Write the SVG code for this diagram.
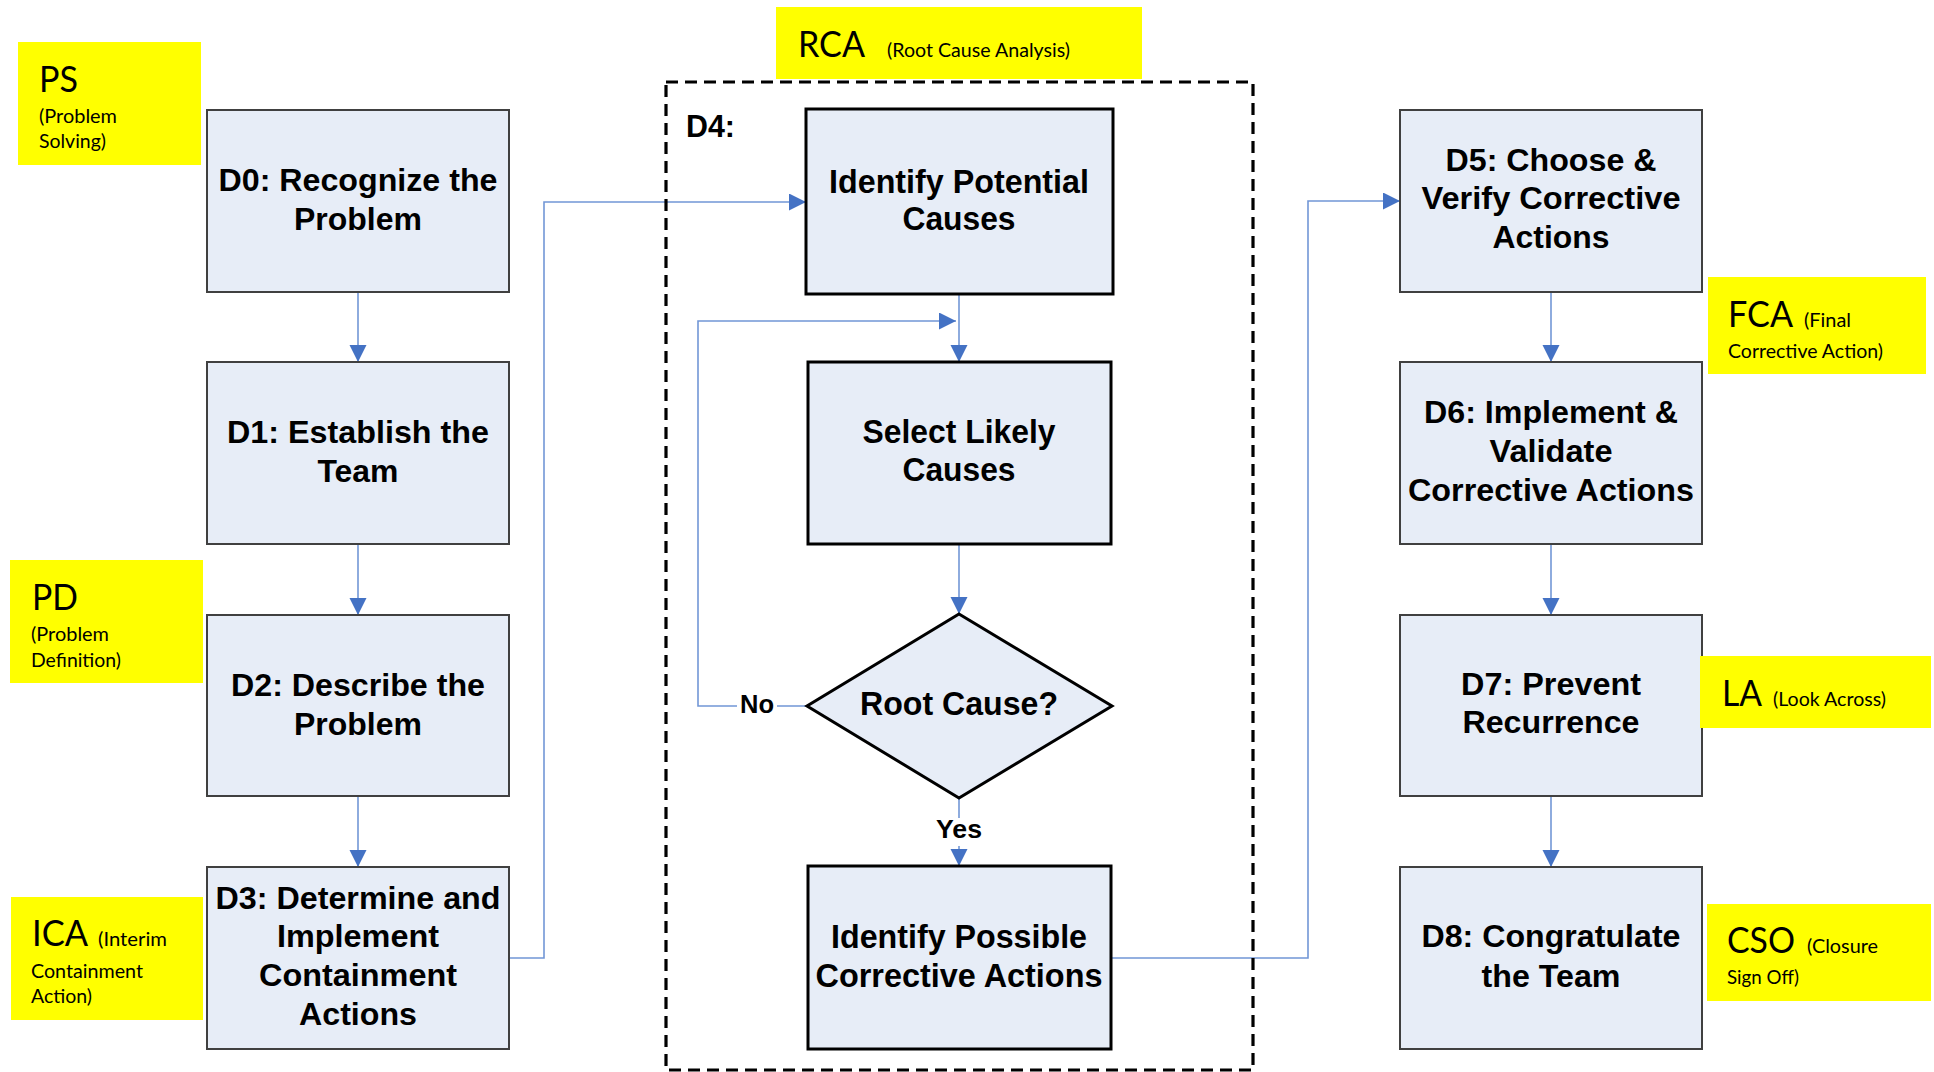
<svg xmlns="http://www.w3.org/2000/svg" width="1934" height="1072" viewBox="0 0 1934 1072">
<defs>
<style>
.box{fill:#E7EDF7;stroke:#404040;stroke-width:2}
.rbox{fill:#E7EDF7;stroke:#000;stroke-width:3}
.t{font-family:"Liberation Sans",Arial,sans-serif;font-weight:bold;font-size:30.5px;fill:#000;text-anchor:middle}
.tn{font-family:"Liberation Sans",Arial,sans-serif;font-weight:bold;font-size:33px;fill:#000;text-anchor:middle}
.lbl{font-family:"Liberation Sans",Arial,sans-serif;font-weight:bold;font-size:25px;fill:#000}
.yel{fill:#FFFF00}
.big{font-family:Lato,"Open Sans",sans-serif;font-size:36px;fill:#000}
.small{font-family:Lato,"Open Sans",sans-serif;font-size:19.5px;fill:#000}
.conn{fill:none;stroke:#7297D6;stroke-width:1.6}
.dash{fill:none;stroke:#000;stroke-width:3.2;stroke-dasharray:12 7}
</style>
<marker id="arr" markerUnits="userSpaceOnUse" markerWidth="18" markerHeight="18" refX="17" refY="8.5" orient="auto">
<path d="M0,0 L17,8.5 L0,17 z" fill="#4472C4"/>
</marker>
</defs>
<rect width="1934" height="1072" fill="#fff"/>

<g id="connectors">
<path class="conn" d="M358,292 V362" marker-end="url(#arr)"/>
<path class="conn" d="M358,544 V615" marker-end="url(#arr)"/>
<path class="conn" d="M358,796 V867" marker-end="url(#arr)"/>
<path class="conn" d="M509,958 H544 V202 H806" marker-end="url(#arr)"/>
<path class="conn" d="M959,294 V362" marker-end="url(#arr)"/>
<path class="conn" d="M959,544 V614" marker-end="url(#arr)"/>
<path class="conn" d="M807,706 H698 V321 H956" marker-end="url(#arr)"/>
<path class="conn" d="M959,798 V866" marker-end="url(#arr)"/>
<path class="conn" d="M1110,958 H1308 V201 H1400" marker-end="url(#arr)"/>
<path class="conn" d="M1551,292 V362" marker-end="url(#arr)"/>
<path class="conn" d="M1551,544 V615" marker-end="url(#arr)"/>
<path class="conn" d="M1551,796 V867" marker-end="url(#arr)"/>
<rect x="737" y="692" width="40" height="28" fill="#fff"/>
<text class="lbl" x="740" y="713" textLength="34" lengthAdjust="spacingAndGlyphs">No</text>
<rect x="933" y="818" width="52" height="28" fill="#fff"/>
<text class="lbl" x="959" y="838" text-anchor="middle" textLength="46" lengthAdjust="spacingAndGlyphs">Yes</text>
</g>

<g id="rca-group">
<rect class="dash" x="666" y="82" width="587" height="988"/>
<text class="t" x="686" y="137" text-anchor="start" style="text-anchor:start" textLength="49" lengthAdjust="spacingAndGlyphs">D4:</text>
</g>

<g id="D0">
<rect class="box" x="207" y="110" width="302" height="182"/>
<text class="t" x="358" y="191" textLength="279" lengthAdjust="spacingAndGlyphs">D0: Recognize the</text>
<text class="t" x="358" y="230" textLength="128" lengthAdjust="spacingAndGlyphs">Problem</text>
</g>
<g id="D1">
<rect class="box" x="207" y="362" width="302" height="182"/>
<text class="t" x="358" y="443" textLength="262" lengthAdjust="spacingAndGlyphs">D1: Establish the</text>
<text class="t" x="358" y="482" textLength="81" lengthAdjust="spacingAndGlyphs">Team</text>
</g>
<g id="D2">
<rect class="box" x="207" y="615" width="302" height="181"/>
<text class="t" x="358" y="696" textLength="254" lengthAdjust="spacingAndGlyphs">D2: Describe the</text>
<text class="t" x="358" y="735" textLength="128" lengthAdjust="spacingAndGlyphs">Problem</text>
</g>
<g id="D3">
<rect class="box" x="207" y="867" width="302" height="182"/>
<text class="t" x="358" y="909" textLength="285" lengthAdjust="spacingAndGlyphs">D3: Determine and</text>
<text class="t" x="358" y="947" textLength="162" lengthAdjust="spacingAndGlyphs">Implement</text>
<text class="t" x="358" y="986" textLength="198" lengthAdjust="spacingAndGlyphs">Containment</text>
<text class="t" x="358" y="1025" textLength="118" lengthAdjust="spacingAndGlyphs">Actions</text>
</g>

<g id="identify-potential-causes">
<rect class="rbox" x="806" y="109" width="307" height="185"/>
<text class="tn" x="959" y="193" textLength="260" lengthAdjust="spacingAndGlyphs">Identify Potential</text>
<text class="tn" x="959" y="230" textLength="113" lengthAdjust="spacingAndGlyphs">Causes</text>
</g>
<g id="select-likely-causes">
<rect class="rbox" x="808" y="362" width="303" height="182"/>
<text class="tn" x="959" y="443" textLength="193" lengthAdjust="spacingAndGlyphs">Select Likely</text>
<text class="tn" x="959" y="481" textLength="113" lengthAdjust="spacingAndGlyphs">Causes</text>
</g>
<g id="root-cause">
<polygon class="rbox" points="959,614 1112,706 959,798 807,706"/>
<text class="tn" x="959" y="715" textLength="198" lengthAdjust="spacingAndGlyphs">Root Cause?</text>
</g>
<g id="identify-possible-corrective-actions">
<rect class="rbox" x="808" y="866" width="303" height="183"/>
<text class="tn" x="959" y="948" textLength="256" lengthAdjust="spacingAndGlyphs">Identify Possible</text>
<text class="tn" x="959" y="987" textLength="287" lengthAdjust="spacingAndGlyphs">Corrective Actions</text>
</g>

<g id="D5">
<rect class="box" x="1400" y="110" width="302" height="182"/>
<text class="t" x="1551" y="171" textLength="211" lengthAdjust="spacingAndGlyphs">D5: Choose &amp;</text>
<text class="t" x="1551" y="209" textLength="259" lengthAdjust="spacingAndGlyphs">Verify Corrective</text>
<text class="t" x="1551" y="248" textLength="117" lengthAdjust="spacingAndGlyphs">Actions</text>
</g>
<g id="D6">
<rect class="box" x="1400" y="362" width="302" height="182"/>
<text class="t" x="1551" y="423" textLength="254" lengthAdjust="spacingAndGlyphs">D6: Implement &amp;</text>
<text class="t" x="1551" y="462" textLength="123" lengthAdjust="spacingAndGlyphs">Validate</text>
<text class="t" x="1551" y="501" textLength="286" lengthAdjust="spacingAndGlyphs">Corrective Actions</text>
</g>
<g id="D7">
<rect class="box" x="1400" y="615" width="302" height="181"/>
<text class="t" x="1551" y="695" textLength="180" lengthAdjust="spacingAndGlyphs">D7: Prevent</text>
<text class="t" x="1551" y="733" textLength="177" lengthAdjust="spacingAndGlyphs">Recurrence</text>
</g>
<g id="D8">
<rect class="box" x="1400" y="867" width="302" height="182"/>
<text class="t" x="1551" y="947" textLength="259" lengthAdjust="spacingAndGlyphs">D8: Congratulate</text>
<text class="t" x="1551" y="987" textLength="139" lengthAdjust="spacingAndGlyphs">the Team</text>
</g>

<g id="label-PS">
<rect class="yel" x="18" y="42" width="183" height="123"/>
<text class="big" x="39" y="92" textLength="39" lengthAdjust="spacingAndGlyphs">PS</text>
<text class="small" x="39" y="123" textLength="78" lengthAdjust="spacingAndGlyphs">(Problem</text>
<text class="small" x="39" y="148" textLength="67" lengthAdjust="spacingAndGlyphs">Solving)</text>
</g>
<g id="label-PD">
<rect class="yel" x="10" y="560" width="193" height="123"/>
<text class="big" x="32" y="610" textLength="46" lengthAdjust="spacingAndGlyphs">PD</text>
<text class="small" x="31" y="641" textLength="78" lengthAdjust="spacingAndGlyphs">(Problem</text>
<text class="small" x="31" y="667" textLength="90" lengthAdjust="spacingAndGlyphs">Definition)</text>
</g>
<g id="label-ICA">
<rect class="yel" x="11" y="897" width="192" height="123"/>
<text class="big" x="32" y="946" textLength="56" lengthAdjust="spacingAndGlyphs">ICA</text>
<text class="small" x="98" y="946" textLength="69" lengthAdjust="spacingAndGlyphs">(Interim</text>
<text class="small" x="31" y="978" textLength="112" lengthAdjust="spacingAndGlyphs">Containment</text>
<text class="small" x="31" y="1003" textLength="61" lengthAdjust="spacingAndGlyphs">Action)</text>
</g>
<g id="label-RCA">
<rect class="yel" x="776" y="7" width="366" height="72"/>
<text class="big" x="798" y="57" textLength="67" lengthAdjust="spacingAndGlyphs">RCA</text>
<text class="small" x="887" y="57" textLength="183" lengthAdjust="spacingAndGlyphs">(Root Cause Analysis)</text>
</g>
<g id="label-FCA">
<rect class="yel" x="1708" y="277" width="218" height="97"/>
<text class="big" x="1728" y="327" textLength="65" lengthAdjust="spacingAndGlyphs">FCA</text>
<text class="small" x="1804" y="327" textLength="47" lengthAdjust="spacingAndGlyphs">(Final</text>
<text class="small" x="1728" y="358" textLength="155" lengthAdjust="spacingAndGlyphs">Corrective Action)</text>
</g>
<g id="label-LA">
<rect class="yel" x="1700" y="656" width="231" height="72"/>
<text class="big" x="1722" y="706" textLength="40" lengthAdjust="spacingAndGlyphs">LA</text>
<text class="small" x="1773" y="706" textLength="113" lengthAdjust="spacingAndGlyphs">(Look Across)</text>
</g>
<g id="label-CSO">
<rect class="yel" x="1707" y="904" width="224" height="97"/>
<text class="big" x="1727" y="953" textLength="68" lengthAdjust="spacingAndGlyphs">CSO</text>
<text class="small" x="1807" y="953" textLength="71" lengthAdjust="spacingAndGlyphs">(Closure</text>
<text class="small" x="1727" y="984" textLength="72" lengthAdjust="spacingAndGlyphs">Sign Off)</text>
</g>
</svg>
